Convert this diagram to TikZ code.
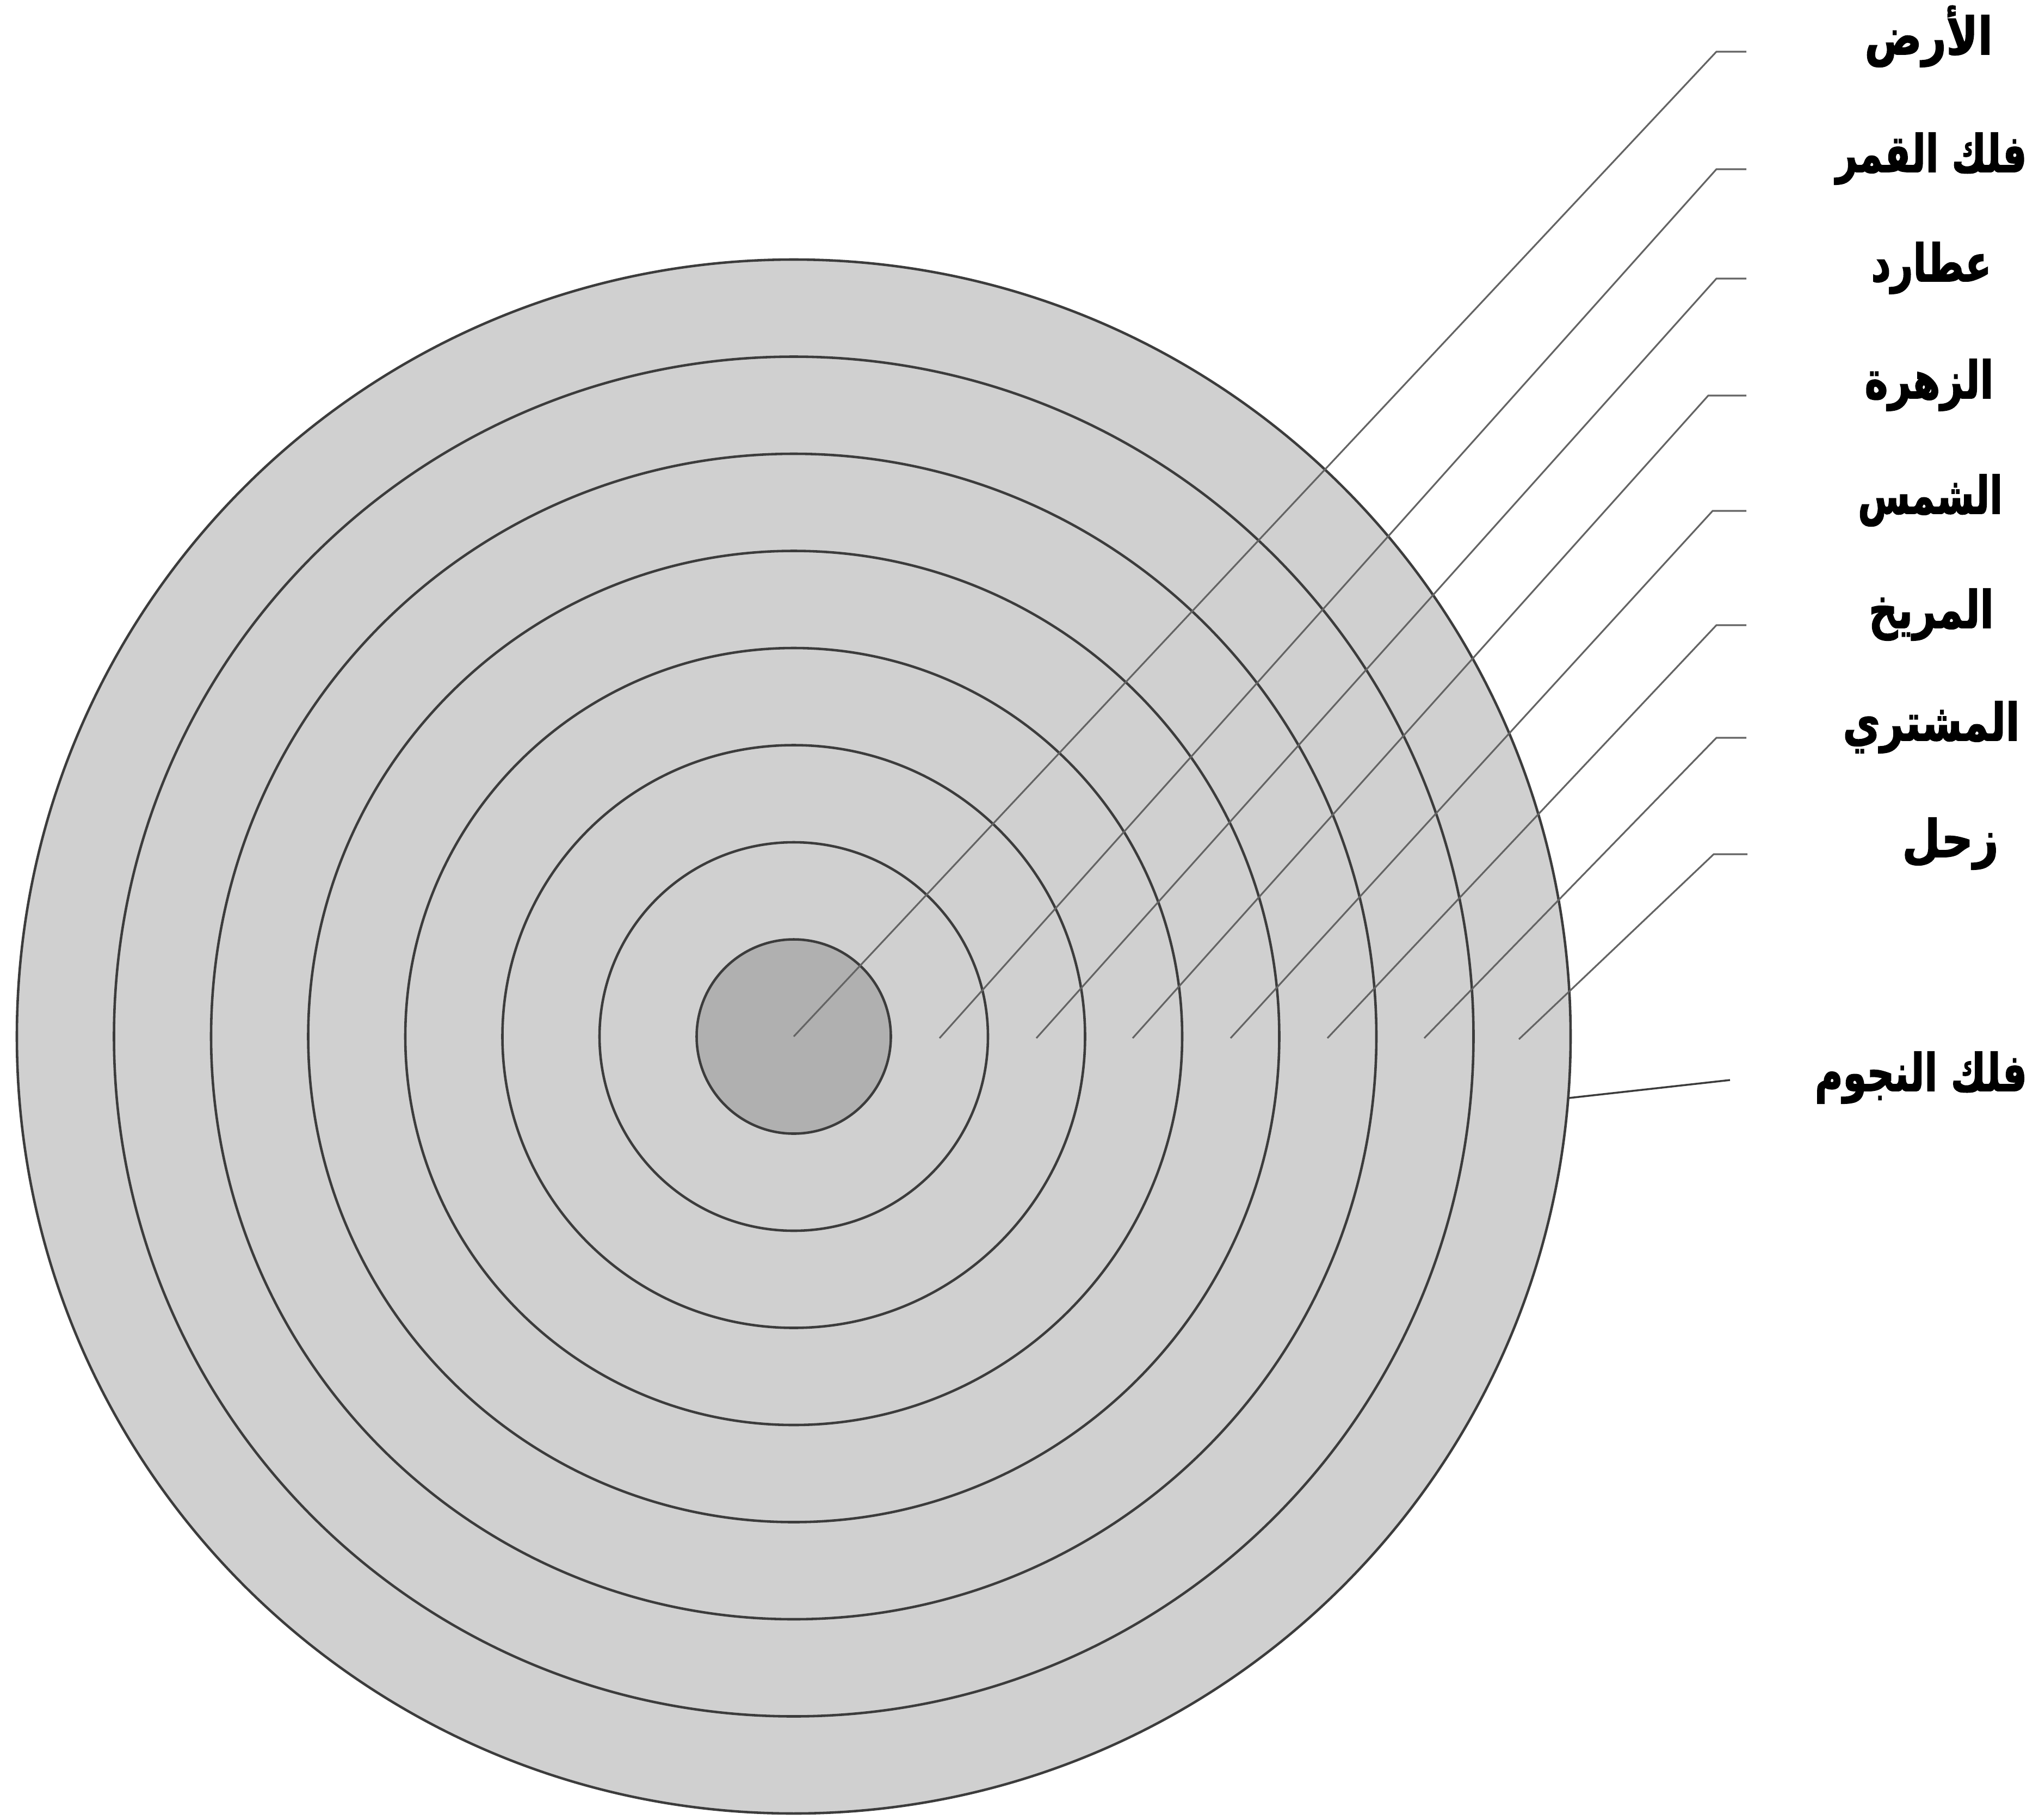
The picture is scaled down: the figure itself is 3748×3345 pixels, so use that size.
\documentclass[tikz,border=0pt]{standalone}
\usepackage{fontspec}
\usepackage{graphicx}
\newfontfamily\arabicfont[Script=Arabic, BoldFeatures={FakeBold=2}]{DejaVu Sans}
\TeXXeTstate=1
\definecolor{ringfill}{RGB}{208,208,208}
\definecolor{earthfill}{RGB}{176,176,176}
\definecolor{ringline}{RGB}{60,60,60}
\definecolor{leadline}{RGB}{100,100,100}
\begin{document}
\begin{tikzpicture}[x=0.1mm,y=-0.1mm,
  ring/.style={draw=ringline, line width=1.3pt},
  leader/.style={draw=leadline, line width=0.9pt},
  lbl/.style={font=\arabicfont\bfseries\fontsize{27}{30}\selectfont, anchor=base, inner sep=0pt, text=black}]
\useasboundingbox (0,0) rectangle (3748,3345);
\coordinate (O) at (1459,1905);
% orbs
\fill[ringfill] (O) circle[radius=1428];
\foreach \k in {2,...,8} \draw[ring] (O) circle[radius=178.5*\k];
\fill[earthfill] (O) circle[radius=178.5];
\draw[ring] (O) circle[radius=178.5];
% labels (width fitted to the reference, natural height)
\node[lbl] (tEarth) at (3545,100) {\resizebox{23.5mm}{\height}{\beginR الأرض\endR}};
\node[lbl] (tMoon) at (3550,316) {\resizebox{35.1mm}{\height}{\beginR فلك القمر\endR}};
\node[lbl] (tMercury) at (3550,517) {\resizebox{22.1mm}{\height}{\beginR عطارد\endR}};
\node[lbl] (tVenus) at (3546,732) {\resizebox{23.7mm}{\height}{\beginR الزهرة\endR}};
\node[lbl] (tSun) at (3548,944) {\resizebox{26.6mm}{\height}{\beginR الشمس\endR}};
\node[lbl] (tMars) at (3550,1154) {\resizebox{23.0mm}{\height}{\beginR المريخ\endR}};
\node[lbl] (tJupiter) at (3550,1361) {\resizebox{32.5mm}{\height}{\beginR المشتري\endR}};
\node[lbl] (tSaturn) at (3585,1575) {\resizebox{17.7mm}{\height}{\beginR زحل\endR}};
\node[lbl] (tStars) at (3531,2005) {\resizebox{39.0mm}{\height}{\beginR فلك النجوم\endR}};
% leader coordinates
\coordinate (hEarth) at (3210,95);   \coordinate (kEarth) at (3155,95);   \coordinate (eEarth) at (1459,1905);
\coordinate (hMoon) at (3210,311);   \coordinate (kMoon) at (3155,311);   \coordinate (eMoon) at (1727,1908);
\coordinate (hMercury) at (3210,512);\coordinate (kMercury) at (3155,512);\coordinate (eMercury) at (1905,1908);
\coordinate (hVenus) at (3210,727);  \coordinate (kVenus) at (3140,727);  \coordinate (eVenus) at (2082,1908);
\coordinate (hSun) at (3210,939);    \coordinate (kSun) at (3148,939);    \coordinate (eSun) at (2262,1908);
\coordinate (hMars) at (3210,1149);  \coordinate (kMars) at (3155,1149);  \coordinate (eMars) at (2440,1908);
\coordinate (hJupiter) at (3210,1356);\coordinate (kJupiter) at (3155,1356);\coordinate (eJupiter) at (2618,1908);
\coordinate (hSaturn) at (3212,1570);\coordinate (kSaturn) at (3150,1570);\coordinate (eSaturn) at (2792,1910);
\coordinate (hStars) at (3180,1985); \coordinate (eStars) at (2884,2018);
% leaders
\foreach \n in {Earth,Moon,Mercury,Venus,Sun,Mars,Jupiter,Saturn}
  \draw[leader] (h\n) -- (k\n) -- (e\n);
\draw[leader, draw=ringline, line width=1pt] (eStars) -- (hStars);
\end{tikzpicture}
\end{document}
